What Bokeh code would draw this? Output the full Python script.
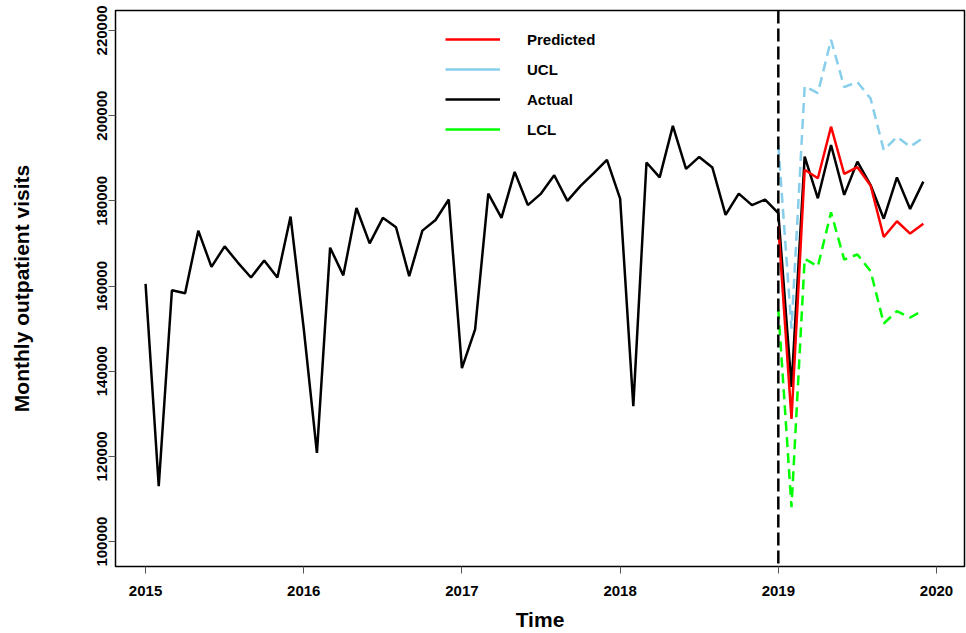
import math
import numpy as np
from bokeh.plotting import figure
from bokeh.models import (FixedTicker, BasicTickFormatter, Range1d, Span,
                          Legend, LegendItem, ColumnDataSource)
from bokeh.embed import file_html
from bokeh.resources import INLINE

# Monthly outpatient visits, Jan 2015 - Dec 2019
actual = [
    160500, 113000, 159000, 158300, 173000, 164500, 169300, 165500, 162000, 166000, 162000, 176300,  # 2015
    150000, 120800, 169000, 162500, 178300, 170000, 176000, 173800, 162300, 173000, 175500, 180300,  # 2016
    140700, 149800, 181700, 176000, 186800, 179000, 181700, 186000, 180000, 183500, 186500, 189600,  # 2017
    180500, 131800, 189000, 185500, 197600, 187500, 190300, 187800, 176700, 181700, 179000, 180300,  # 2018
    177100, 136300, 190400, 180600, 193100, 181400, 189200, 183700, 175800, 185500, 178100, 184500,  # 2019
]

# Forecast for 2019 with upper / lower confidence limits
predicted = [174000, 128800, 187300, 185300, 197400, 186300, 187900, 183600, 171500, 175200, 172300, 174600]
ucl = [193100, 150000, 206900, 205300, 217800, 206700, 207900, 204000, 191900, 195000, 192700, 194800]
lcl = [154500, 108100, 166400, 164600, 177300, 166200, 167400, 163500, 151200, 154100, 152600, 154300]

start_year = 2015
forecast_year = 2019
year_ticks = [2015, 2016, 2017, 2018, 2019, 2020]
visit_ticks = [100000, 120000, 140000, 160000, 180000, 200000, 220000]

t_actual = [start_year + i / 12 for i in range(len(actual))]
t_fc = [forecast_year + i / 12 for i in range(len(predicted))]

SANS = "'Liberation Sans', Arial, sans-serif"

p = figure(width=966, height=633, output_backend="svg", toolbar_location=None,
           x_range=Range1d(2014.81, 2020.177), y_range=Range1d(94150, 224680),
           min_border_left=115, min_border_right=2, min_border_top=10,
           min_border_bottom=65)
p.background_fill_color = "white"
p.border_fill_color = "white"
p.outline_line_color = "black"
p.outline_line_width = 1.5
p.xgrid.visible = False
p.ygrid.visible = False

# axes
for ax in (p.xaxis[0], p.yaxis[0]):
    ax.axis_line_color = None
    ax.major_tick_line_color = "#555555"
    ax.major_tick_line_width = 1
    ax.major_tick_in = 0
    ax.major_tick_out = 7
    ax.minor_tick_line_color = None
    ax.major_label_text_font = SANS
    ax.major_label_text_font_style = "bold"
    ax.major_label_text_font_size = "15px"
    ax.major_label_text_color = "black"
    ax.axis_label_text_font = SANS
    ax.axis_label_text_font_style = "bold"
    ax.axis_label_text_font_size = "21px"
    ax.axis_label_text_color = "black"

p.xaxis.ticker = FixedTicker(ticks=year_ticks)
p.xaxis.major_label_standoff = 12
p.xaxis.axis_label = "Time"
p.xaxis.axis_label_standoff = 9

p.yaxis.ticker = FixedTicker(ticks=visit_ticks)
p.yaxis.formatter = BasicTickFormatter(use_scientific=False)
p.yaxis.major_label_orientation = "parallel"
p.yaxis.major_label_standoff = 1
p.yaxis.axis_label = "Monthly outpatient visits"
p.yaxis.axis_label_standoff = 62

# series
p.line(t_actual, actual, line_color="black", line_width=2.5)
p.line(t_fc, predicted, line_color="#FF0000", line_width=2.5)
p.line(t_fc, ucl, line_color="#87CEEB", line_width=2.5, line_dash="10 6")
p.line(t_fc, lcl, line_color="#00FF00", line_width=2.5, line_dash="10 6")

# start of forecast period
p.add_layout(Span(location=forecast_year, dimension="height", line_color="black",
                  line_width=2.5, line_dash="13 5"))

# legend with solid swatches (renderers that hold no drawable points)
swatches = []
for name, color in [("Predicted", "#FF0000"), ("UCL", "#87CEEB"),
                    ("Actual", "black"), ("LCL", "#00FF00")]:
    src = ColumnDataSource(data=dict(x=[np.nan], y=[np.nan]))
    r = p.line("x", "y", source=src, line_color=color, line_width=2.5)
    swatches.append(LegendItem(label=name, renderers=[r]))

legend = Legend(items=swatches, location=(330, 427), orientation="vertical",
                padding=0, margin=0, border_line_color=None,
                background_fill_alpha=0, glyph_width=55, glyph_height=20,
                label_height=20, label_standoff=27, spacing=10,
                label_text_font=SANS, label_text_font_style="bold",
                label_text_font_size="15px", label_text_color="black")
p.add_layout(legend, "center")

open("out.html", "w").write(file_html(p, INLINE))
